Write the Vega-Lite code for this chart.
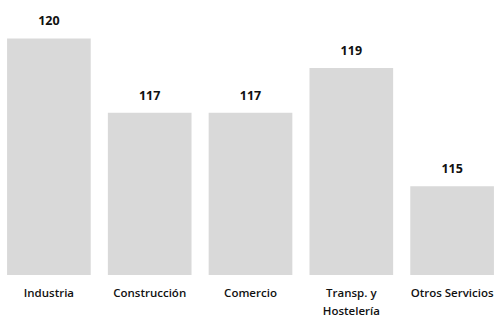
{
  "$schema": "https://vega.github.io/schema/vega-lite/v6.json",
  "width": 501,
  "height": 275,
  "padding": {"top": 0, "left": 0, "right": 0, "bottom": 43},
  "autosize": {"type": "none"},
  "background": "white",
  "config": {"view": {"stroke": null}},
  "data": {
    "values": [
      {"sector": "Industria", "valor": 120},
      {"sector": "Construcción", "valor": 117.49},
      {"sector": "Comercio", "valor": 117.49},
      {"sector": "Transp. y Hostelería", "valor": 119},
      {"sector": "Otros Servicios", "valor": 115}
    ]
  },
  "encoding": {
    "x": {
      "field": "sector",
      "type": "nominal",
      "sort": null,
      "scale": {"paddingInner": 0.17, "paddingOuter": 0.07},
      "axis": {
        "title": null,
        "domain": false,
        "ticks": false,
        "labelAngle": 0,
        "labelPadding": 12,
        "labelFont": "Open Sans",
        "labelFontSize": 11.5,
        "labelFontWeight": 600,
        "labelColor": "#111111",
        "labelLineHeight": 18,
        "labelExpr": "datum.label == 'Transp. y Hostelería' ? ['Transp. y', 'Hostelería'] : datum.label"
      }
    },
    "y": {
      "field": "valor",
      "type": "quantitative",
      "scale": {"domain": [112, 121.3], "nice": false, "zero": false},
      "axis": null
    }
  },
  "layer": [
    {"mark": {"type": "bar", "color": "#d9d9d9", "clip": true}},
    {
      "mark": {"type": "text", "dy": -10, "baseline": "bottom", "font": "Open Sans", "fontWeight": "bold", "fontSize": 12.5, "color": "#111111"},
      "encoding": {"text": {"field": "valor", "type": "quantitative", "format": ".0f"}}
    }
  ]
}
